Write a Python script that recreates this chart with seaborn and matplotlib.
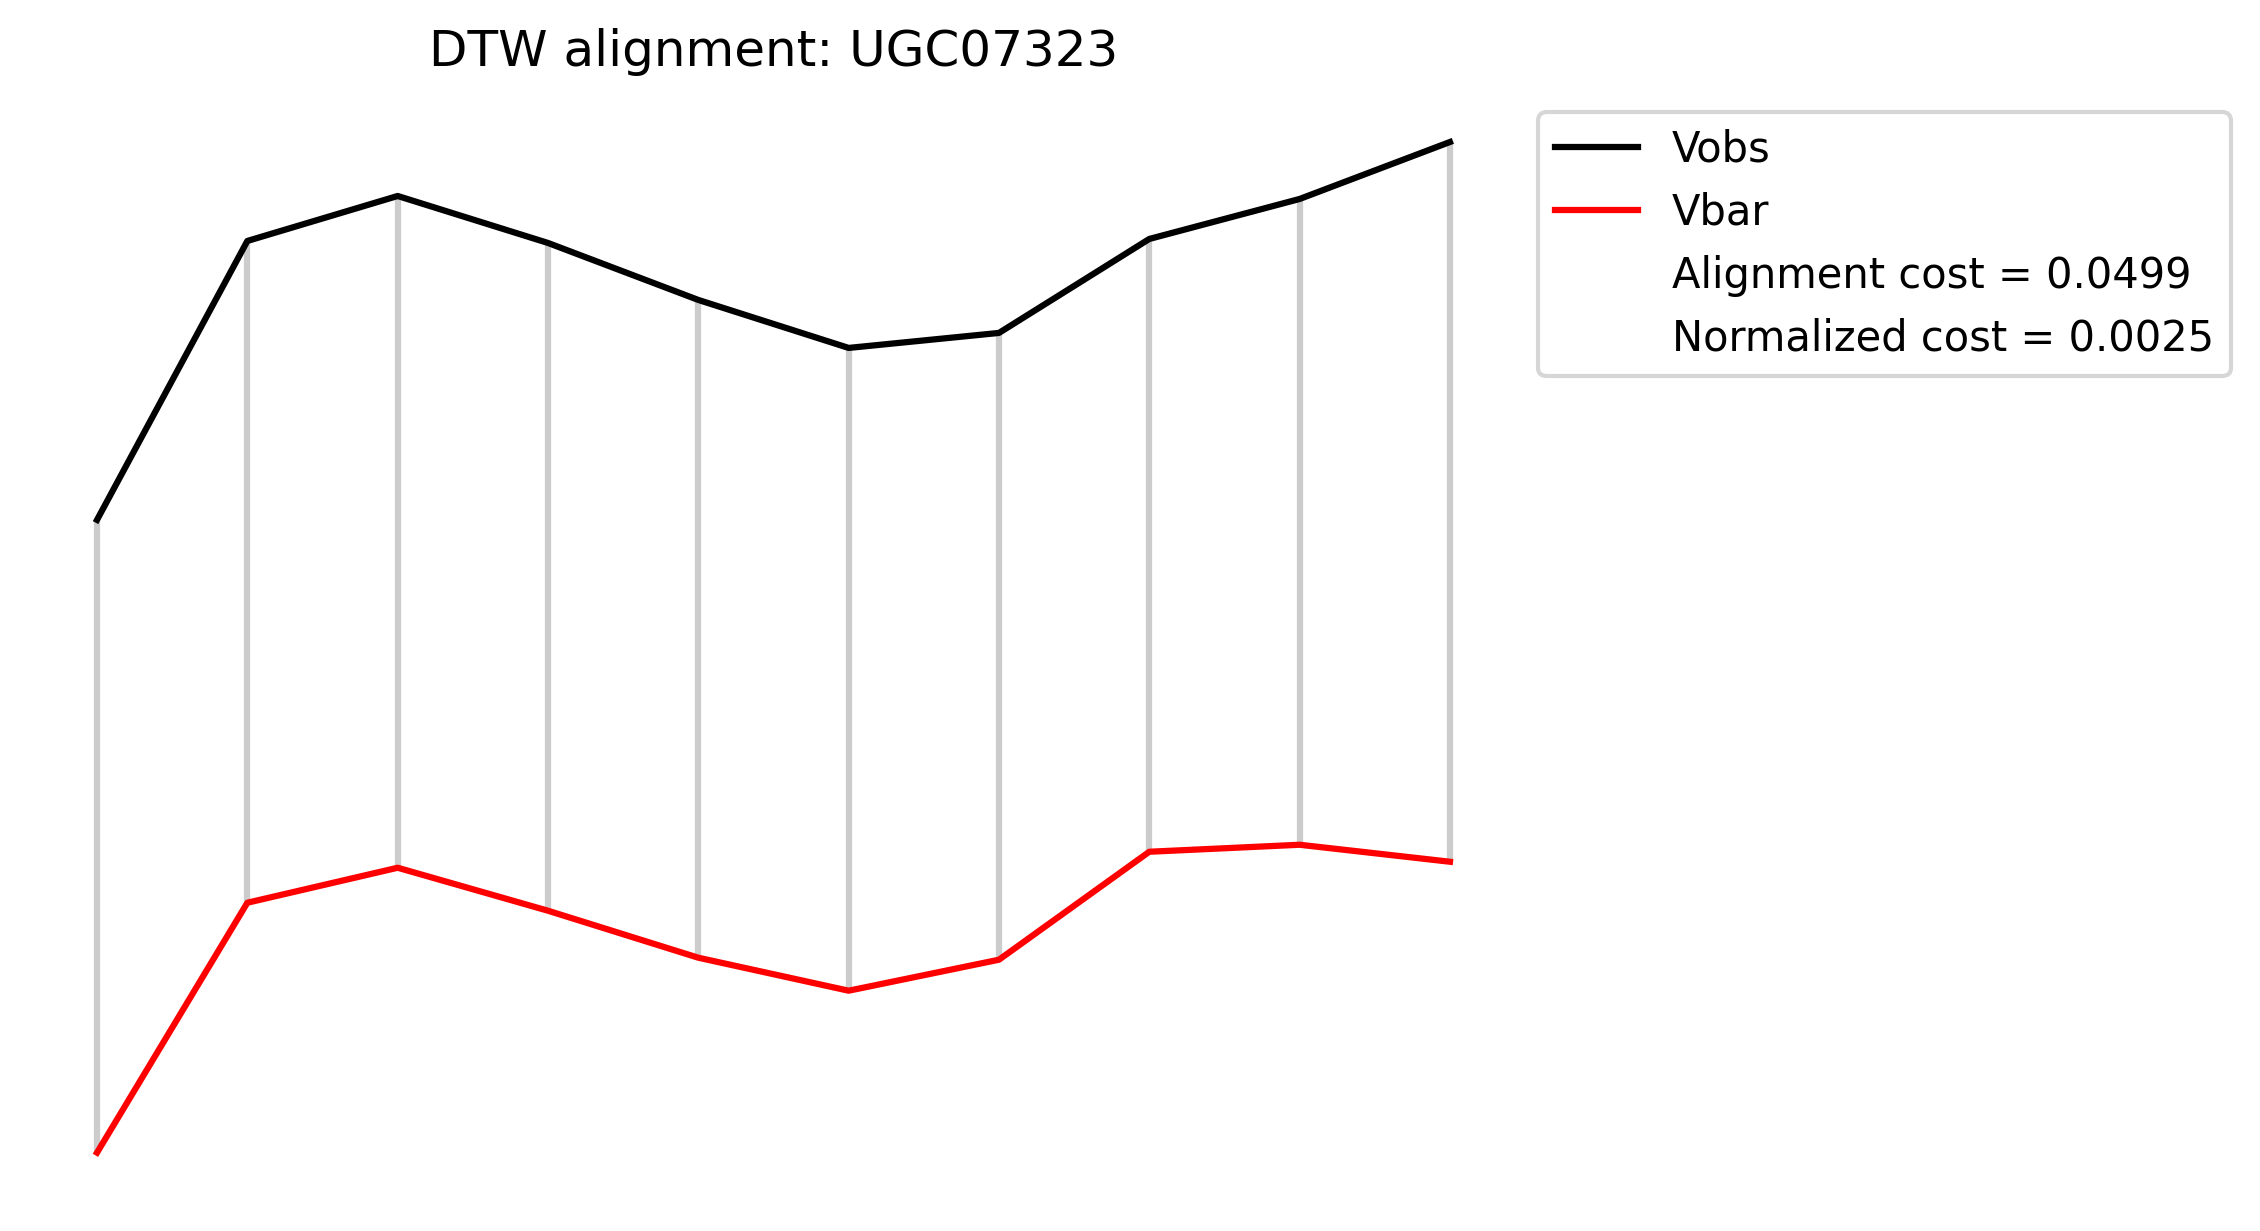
import matplotlib
matplotlib.use("Agg")
import matplotlib.pyplot as plt
import numpy as np
import seaborn as sns

# DTW path: radius index and velocities (arbitrary km/s scale)
idx = np.arange(10)
vobs = [71.1, 99.0, 103.5, 98.8, 93.1, 88.3, 89.8, 99.2, 103.2, 108.9]
vbar = [7.8, 32.8, 36.3, 32.0, 27.3, 24.0, 27.1, 37.9, 38.6, 36.9]
alignment_cost = 0.0499
normalized_cost = 0.0025
galaxy = "UGC07323"

fig, ax = plt.subplots(figsize=(2260 / 300, 1231 / 300), dpi=300)
fig.subplots_adjust(left=0.013, right=0.6715, bottom=0.0226, top=0.9257)

# matched pairs
ax.vlines(idx, vbar, vobs, color="0.8", lw=1.5, zorder=1)

sns.lineplot(x=idx, y=vobs, color="black", lw=1.5, label="Vobs", ax=ax, zorder=2)
sns.lineplot(x=idx, y=vbar, color="red", lw=1.5, label="Vbar", ax=ax, zorder=2)
ax.plot([], [], " ", label=f"Alignment cost = {alignment_cost:.4f}")
ax.plot([], [], " ", label=f"Normalized cost = {normalized_cost:.4f}")

ax.set_title(f"DTW alignment: {galaxy}", fontsize=12)
ax.legend(loc="upper left", bbox_to_anchor=(1, 1), fontsize=10)
ax.axis("off")

fig.savefig("out.png", dpi=300)
